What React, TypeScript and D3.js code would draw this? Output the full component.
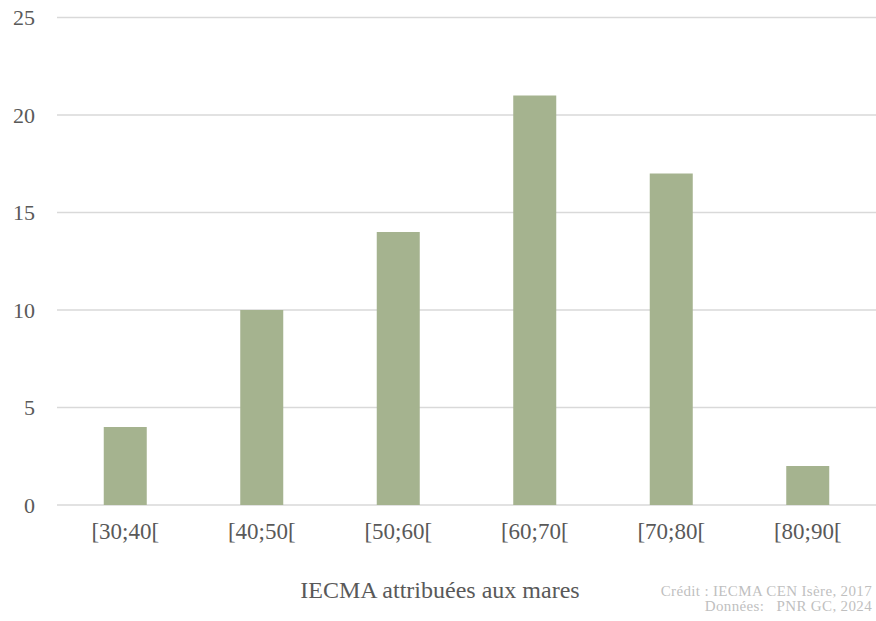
import React from "react";
import * as d3 from "d3";

const categories = ["[30;40[", "[40;50[", "[50;60[", "[60;70[", "[70;80[", "[80;90["];
const counts = [4, 10, 14, 21, 17, 2];
const yTicks = [0, 5, 10, 15, 20, 25];
const axisTitle = "IECMA attribuées aux mares";
const creditLines = ["Crédit : IECMA CEN Isère, 2017", "Données:   PNR GC, 2024"];

const W = 876;
const H = 621;
const plot = { left: 57, right: 876, top: 17.5, bottom: 505 };
const serif = { fontFamily: "Liberation Serif, Times New Roman, serif", whiteSpace: "pre" as const };

export default function App() {
  const x = d3
    .scaleBand<string>()
    .domain(categories)
    .range([plot.left, plot.right])
    .paddingInner(0.685)
    .paddingOuter(0.3425);
  const y = d3.scaleLinear().domain([0, 25]).range([plot.bottom, plot.top]);

  return (
    <svg
      width={W}
      height={H}
      style={{ position: "absolute", left: 0, top: 0, background: "#fff" }}
    >
      {yTicks.map((t) => (
        <g key={t}>
          <line
            x1={plot.left}
            x2={plot.right}
            y1={y(t)}
            y2={y(t)}
            stroke="#d9d9d9"
            strokeWidth={1.3}
          />
          <text x={35} y={y(t) + 7.5} textAnchor="end" fontSize={22} fill="#595959" style={serif}>
            {t}
          </text>
        </g>
      ))}
      {categories.map((c, i) => (
        <g key={c}>
          <rect
            x={x(c)}
            y={y(counts[i])}
            width={x.bandwidth()}
            height={y(0) - y(counts[i])}
            fill="#a5b38f"
          />
          <text
            x={(x(c) as number) + x.bandwidth() / 2}
            y={539}
            textAnchor="middle"
            fontSize={23}
            fill="#595959"
            style={serif}
          >
            {c}
          </text>
        </g>
      ))}
      <text x={440} y={598} textAnchor="middle" fontSize={24} fill="#595959" style={serif}>
        {axisTitle}
      </text>
      {creditLines.map((l, i) => (
        <text
          key={i}
          x={872}
          y={596 + i * 15}
          textAnchor="end"
          fontSize={15}
          letterSpacing={0.35}
          fill="#bfbfbf"
          style={serif}
        >
          {l}
        </text>
      ))}
    </svg>
  );
}
